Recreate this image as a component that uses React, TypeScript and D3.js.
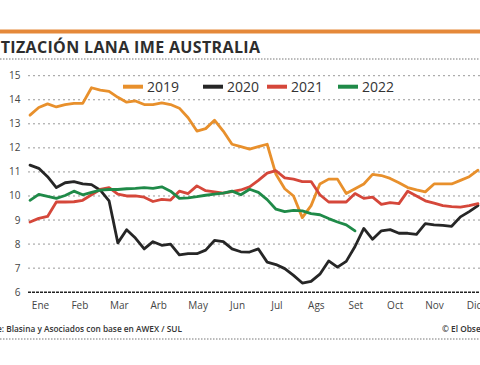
import * as d3 from 'd3';
import { useEffect, useRef } from 'react';

// weekly wool price values, one list per year
const y2019 = [13.36, 13.68, 13.83, 13.7, 13.8, 13.85, 13.85, 14.5, 14.4, 14.35, 14.1, 13.9, 13.95, 13.8, 13.8, 13.87, 13.8, 13.65, 13.25, 12.7, 12.8, 13.15, 12.7, 12.15, 12.05, 11.95, 12.05, 12.15, 10.9, 10.3, 10.0, 9.1, 9.6, 10.5, 10.7, 10.7, 10.1, 10.3, 10.5, 10.9, 10.85, 10.73, 10.55, 10.35, 10.25, 10.17, 10.5, 10.5, 10.5, 10.65, 10.8, 11.07];
const y2020 = [11.28, 11.15, 10.8, 10.35, 10.55, 10.6, 10.5, 10.47, 10.24, 9.8, 8.05, 8.6, 8.25, 7.8, 8.1, 7.95, 8.0, 7.55, 7.6, 7.6, 7.75, 8.15, 8.1, 7.8, 7.68, 7.67, 7.8, 7.25, 7.15, 6.98, 6.7, 6.38, 6.45, 6.75, 7.3, 7.04, 7.28, 7.9, 8.65, 8.2, 8.55, 8.6, 8.45, 8.45, 8.4, 8.85, 8.8, 8.78, 8.74, 9.13, 9.35, 9.6];
const y2021 = [8.92, 9.07, 9.15, 9.75, 9.75, 9.76, 9.82, 10.05, 10.27, 10.35, 10.08, 10.0, 10.0, 9.95, 9.77, 9.86, 9.83, 10.2, 10.1, 10.42, 10.22, 10.17, 10.12, 10.18, 10.25, 10.38, 10.65, 10.95, 11.05, 10.75, 10.7, 10.6, 10.6, 10.05, 9.75, 9.75, 9.75, 10.1, 9.9, 9.95, 9.65, 9.72, 9.68, 10.2, 10.0, 9.8, 9.7, 9.6, 9.56, 9.54, 9.6, 9.68];
const y2022 = [9.82, 10.07, 9.98, 9.9, 10.02, 10.2, 10.05, 10.15, 10.24, 10.27, 10.27, 10.3, 10.32, 10.35, 10.32, 10.38, 10.2, 9.9, 9.92, 9.97, 10.03, 10.08, 10.12, 10.2, 10.05, 10.28, 10.15, 9.85, 9.45, 9.35, 9.4, 9.38, 9.27, 9.22, 9.06, 8.92, 8.8, 8.55];

const years = ['2019', '2020', '2021', '2022'];
const colors = ['#e8902c', '#262626', '#d5473a', '#1f8a48'];
const months = ['Ene', 'Feb', 'Mar', 'Arb', 'May', 'Jun', 'Jul', 'Ags', 'Set', 'Oct', 'Nov', 'Dic'];
const yTicks = [6, 7, 8, 9, 10, 11, 12, 13, 14, 15];

const W = 480, H = 365;
const font = '"Open Sans", "DejaVu Sans", sans-serif';

const App = () => {
  const svgRef = useRef(null);

  useEffect(() => {
    const svg = d3.select(svgRef.current);
    svg.selectAll('*').remove();

    const x = d3.scaleLinear().domain([0, 51]).range([30, 478]);
    const y = d3.scaleLinear().domain([6, 15]).range([292.2, 75.7]);
    const xm = d3.scalePoint().domain(months).range([40.5, 474]);

    svg.append('rect').attr('width', W).attr('height', H).attr('fill', '#fff');

    // header
    svg.append('rect').attr('x', 0).attr('y', 29.5).attr('width', W).attr('height', 4).attr('fill', '#e5893a');
    svg.append('text').attr('x', -23).attr('y', 52.5)
      .attr('font-family', font).attr('font-weight', 700).attr('font-size', 16)
      .attr('letter-spacing', 0.35)
      .attr('fill', '#2d2d2d').text('COTIZACIÓN LANA IME AUSTRALIA');
    svg.append('line').attr('x1', 0).attr('x2', W).attr('y1', 59).attr('y2', 59)
      .attr('stroke', '#777').attr('stroke-dasharray', '1.5,1.5');

    // grid + y labels
    yTicks.forEach(t => {
      svg.append('line').attr('x1', 28).attr('x2', W).attr('y1', y(t)).attr('y2', y(t))
        .attr('stroke', t === 6 ? '#222' : '#999')
        .attr('stroke-width', t === 6 ? 1.4 : 1)
        .attr('stroke-dasharray', t === 6 ? '3,1' : '2,3');
      svg.append('text').attr('x', 20.5).attr('y', y(t)).attr('dy', '0.35em')
        .attr('text-anchor', 'end').attr('font-family', font).attr('font-size', 10)
        .attr('fill', '#444').text(t);
    });

    months.forEach(m => {
      svg.append('text').attr('x', xm(m)).attr('y', 308.5).attr('text-anchor', 'middle')
        .attr('font-family', font).attr('font-size', 10).attr('fill', '#444').text(m);
    });

    // lines
    const line = d3.line().x((d, i) => x(i)).y(d => y(d));
    [y2019, y2020, y2021, y2022].forEach((s, k) => {
      svg.append('path').attr('d', line(s)).attr('fill', 'none')
        .attr('stroke', colors[k]).attr('stroke-width', 2.8)
        .attr('stroke-linejoin', 'round').attr('stroke-linecap', 'round');
    });

    // legend
    const lx = [123, 203, 267, 338];
    years.forEach((yr, k) => {
      svg.append('line').attr('x1', lx[k]).attr('x2', lx[k] + 20).attr('y1', 86.7).attr('y2', 86.7)
        .attr('stroke', colors[k]).attr('stroke-width', 4);
      svg.append('text').attr('x', lx[k] + 24).attr('y', 86.7).attr('dy', '0.36em')
        .attr('font-family', font).attr('font-size', 14).attr('fill', '#333').text(yr);
    });

    // footer
    svg.append('text').attr('x', -26).attr('y', 332)
      .attr('font-family', font).attr('font-weight', 600).attr('font-size', 8.3)
      .attr('fill', '#333').text('Fuente: Blasina y Asociados con base en AWEX / SUL');
    svg.append('text').attr('x', 442).attr('y', 332)
      .attr('font-family', font).attr('font-weight', 600).attr('font-size', 8.3)
      .attr('fill', '#333').text('© El Observador');
    svg.append('line').attr('x1', 0).attr('x2', W).attr('y1', 339).attr('y2', 339)
      .attr('stroke', '#777').attr('stroke-dasharray', '1.5,1.5');
  }, []);

  return (
    <svg ref={svgRef} width={W} height={H}
      style={{ position: 'absolute', left: 0, top: 0, display: 'block' }}></svg>
  );
};

export default App;
